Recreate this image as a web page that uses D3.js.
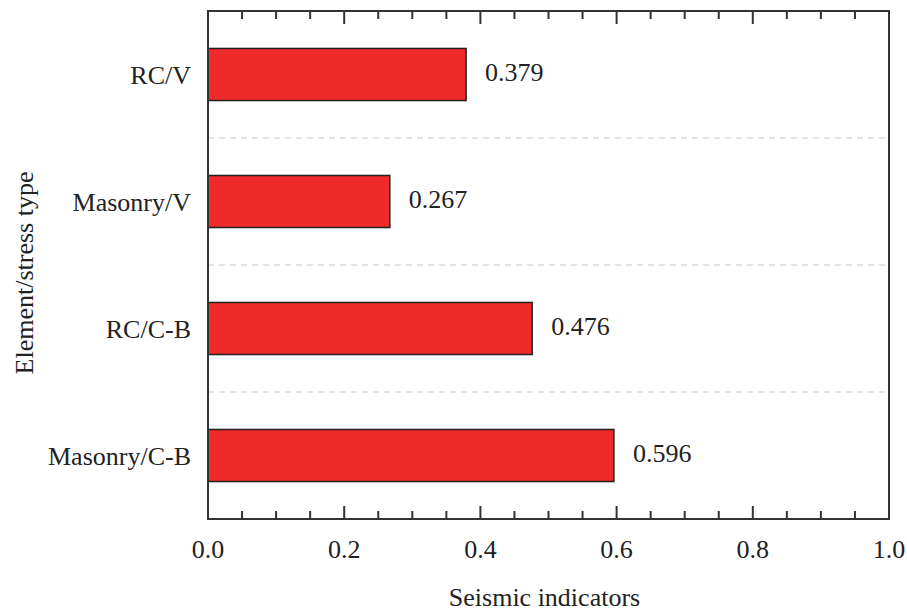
<!DOCTYPE html>
<html>
<head>
<meta charset="utf-8">
<script src="https://cdn.jsdelivr.net/npm/d3@7"></script>
<style>
  body { margin: 0; background: #fff; }
  text { font-family: "Liberation Serif", "Times New Roman", serif; fill: #222; }
</style>
</head>
<body>
<script>
// data
var categories = ["RC/V", "Masonry/V", "RC/C-B", "Masonry/C-B"];
var values = [0.379, 0.267, 0.476, 0.596];
var xTicks = [0.0, 0.2, 0.4, 0.6, 0.8, 1.0];

var margin = {top: 11, right: 18, bottom: 92, left: 208},
    width = 907 - margin.left - margin.right,
    height = 611 - margin.top - margin.bottom;

var svg = d3.select("body").append("svg")
    .attr("width", 907)
    .attr("height", 611)
  .append("g")
    .attr("transform", "translate(" + margin.left + "," + margin.top + ")");

var x = d3.scaleLinear().domain([0, 1]).range([0, width]);
var y = d3.scaleBand().domain(categories).range([0, height])
    .paddingInner(0.59).paddingOuter(0.295);

// dashed separators between categories
svg.selectAll(".sep")
  .data(categories.slice(1))
  .enter().append("line")
  .attr("class", "sep")
  .attr("x1", 0).attr("x2", width)
  .attr("y1", function(d) { return y(d) - y.step() * y.paddingInner() / 2; })
  .attr("y2", function(d) { return y(d) - y.step() * y.paddingInner() / 2; })
  .style("stroke", "#c8c8c8")
  .style("stroke-width", 1.2)
  .style("stroke-dasharray", "6,5");

// bars
svg.selectAll(".bar")
  .data(values)
  .enter().append("rect")
  .attr("class", "bar")
  .attr("x", 0)
  .attr("y", function(d, i) { return y(categories[i]); })
  .attr("width", function(d) { return x(d); })
  .attr("height", y.bandwidth())
  .style("fill", "#ee2a2a")
  .style("stroke", "#222")
  .style("stroke-width", 1.5);

// value labels
svg.selectAll(".val")
  .data(values)
  .enter().append("text")
  .attr("class", "val")
  .attr("x", function(d) { return x(d) + 19; })
  .attr("y", function(d, i) { return y(categories[i]) + y.bandwidth() / 2; })
  .attr("dy", "0.24em")
  .style("font-size", "26px")
  .text(function(d) { return d.toFixed(3); });

// minor + major ticks, bottom and top, pointing inward
var minor = d3.range(0, 1.0001, 0.05);
function tickLines(cls, y0, dir) {
  svg.selectAll("." + cls)
    .data(minor)
    .enter().append("line")
    .attr("class", cls)
    .attr("x1", function(d) { return x(d); })
    .attr("x2", function(d) { return x(d); })
    .attr("y1", y0)
    .attr("y2", function(d, i) { return y0 + dir * (i % 4 === 0 ? 13 : 8); })
    .style("stroke", "#333")
    .style("stroke-width", 2);
}
tickLines("tb", height, -1);
tickLines("tt", 0, 1);

// x tick labels
svg.selectAll(".xl")
  .data(xTicks)
  .enter().append("text")
  .attr("class", "xl")
  .attr("x", function(d) { return x(d); })
  .attr("y", height + 39)
  .attr("text-anchor", "middle")
  .style("font-size", "26px")
  .text(function(d) { return d.toFixed(1); });

// category labels
svg.selectAll(".yl")
  .data(categories)
  .enter().append("text")
  .attr("class", "yl")
  .attr("x", -17)
  .attr("y", function(d) { return y(d) + y.bandwidth() / 2; })
  .attr("dy", "0.35em")
  .attr("text-anchor", "end")
  .style("font-size", "26px")
  .text(function(d) { return d; });

// frame
svg.append("rect")
  .attr("width", width).attr("height", height)
  .style("fill", "none")
  .style("stroke", "#333")
  .style("stroke-width", 2);

// axis titles
svg.append("text")
  .attr("x", width / 2 - 4)
  .attr("y", height + 87)
  .attr("text-anchor", "middle")
  .style("font-size", "26px")
  .text("Seismic indicators");

svg.append("text")
  .attr("transform", "translate(" + (-175) + "," + (height / 2 + 8) + ") rotate(-90)")
  .attr("text-anchor", "middle")
  .style("font-size", "26px")
  .text("Element/stress type");
</script>
</body>
</html>
